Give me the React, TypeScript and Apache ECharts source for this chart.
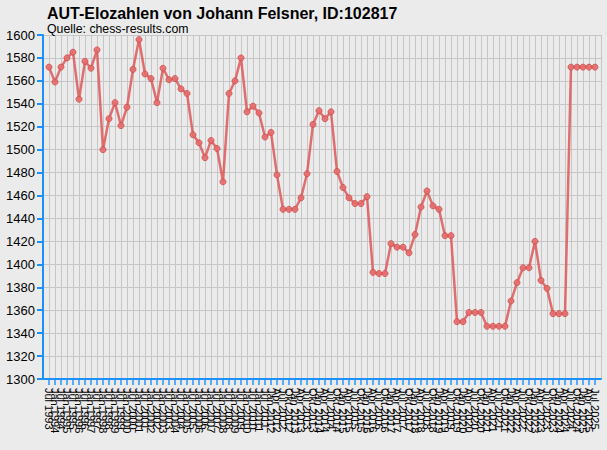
import React, { useEffect, useRef } from "react";
import * as echarts from "echarts";

const titleText = "AUT-Elozahlen von Johann Felsner, ID:102817";
const subText = "Quelle: chess-results.com";

const dateLabels: string[] = [
  "Jul 1993", "Jan 1994", "Jul 1994", "Jan 1995", "Jul 1995", "Jan 1996", "Jul 1996", "Jan 1997",
  "Jul 1997", "Jan 1998", "Jul 1998", "Jan 1999", "Jul 1999", "Jan 2000", "Jul 2000", "Jan 2001",
  "Jul 2001", "Jan 2002", "Jul 2002", "Jan 2003", "Jul 2003", "Jan 2004", "Jul 2004", "Jan 2005",
  "Jul 2005", "Jan 2006", "Jul 2006", "Jan 2007", "Jul 2007", "Jan 2008", "Jul 2008", "Jan 2009",
  "Jul 2009", "Jan 2010", "Jul 2010", "Jan 2011", "Jul 2011", "Jan 2012",
  "Apr 2012", "Jul 2012", "Okt 2012",
  "Jan 2013", "Apr 2013", "Jul 2013", "Okt 2013",
  "Jan 2014", "Apr 2014", "Jul 2014", "Okt 2014",
  "Jan 2015", "Apr 2015", "Jul 2015", "Okt 2015",
  "Jan 2016", "Apr 2016", "Jul 2016", "Okt 2016",
  "Jan 2017", "Apr 2017", "Jul 2017", "Okt 2017",
  "Jan 2018", "Apr 2018", "Jul 2018", "Okt 2018",
  "Jan 2019", "Apr 2019", "Jul 2019", "Okt 2019",
  "Jan 2020", "Apr 2020", "Jul 2020", "Okt 2020",
  "Jan 2021", "Apr 2021", "Jul 2021", "Okt 2021",
  "Jan 2022", "Apr 2022", "Jul 2022", "Okt 2022",
  "Jan 2023", "Apr 2023", "Jul 2023", "Okt 2023",
  "Jan 2024", "Apr 2024", "Jul 2024", "Okt 2024",
  "Jan 2025", "Apr 2025", "Jul 2025",
];

const eloValues: number[] = [
  1572, 1559, 1572, 1580, 1585, 1544, 1577, 1571, 1587, 1500,
  1527, 1541, 1521, 1537, 1570, 1596, 1566, 1562, 1541, 1571,
  1561, 1562, 1553, 1549, 1513, 1506, 1493, 1508, 1501, 1472,
  1549, 1560, 1580, 1533, 1538, 1532, 1511, 1515, 1478, 1448,
  1448, 1448, 1458, 1479, 1522, 1534, 1527, 1533, 1481, 1467,
  1458, 1453, 1453, 1459, 1393, 1392, 1392, 1418, 1415, 1415,
  1410, 1426, 1450, 1464, 1451, 1448, 1425, 1425, 1350, 1350,
  1358, 1358, 1358, 1346, 1346, 1346, 1346, 1368, 1384, 1397,
  1397, 1420, 1386, 1379, 1357, 1357, 1357, 1572, 1572, 1572,
  1572, 1572,
];

const yMin = 1300;
const yMax = 1600;
const yStep = 20;

export default function App() {
  const ref = useRef<HTMLDivElement>(null);
  useEffect(() => {
    if (!ref.current) return;
    const chart = echarts.init(ref.current, null, { renderer: "svg" });
    const cats = ["", ...dateLabels, ""];
    const data: (number | null)[] = [null, ...eloValues, null];
    const blue = "#1E8FFF";
    const gridGray = "#C6C6C6";
    const font = "Liberation Sans, Arial, sans-serif";
    chart.setOption({
      animation: false,
      backgroundColor: "#EBEBEB",
      title: {
        text: titleText,
        subtext: subText,
        left: 42,
        top: 0,
        itemGap: 2,
        textStyle: { fontFamily: font, fontWeight: "bold", fontSize: 16, color: "#000" },
        subtextStyle: { fontFamily: font, fontSize: 12.3, color: "#000" },
      },
      grid: { left: 43, right: 6, top: 35, bottom: 71, containLabel: false },
      xAxis: {
        type: "category",
        data: cats,
        boundaryGap: false,
        axisLine: { show: true, onZero: false, lineStyle: { color: blue, width: 2 } },
        axisTick: {
          show: true,
          length: 6,
          interval: (i: number) => i > 0 && i < cats.length - 1,
          lineStyle: { color: "rgba(30,143,255,0.7)", width: 2 },
        },
        axisLabel: {
          interval: 0,
          rotate: -90,
          margin: 9,
          fontSize: 11,
          fontFamily: font,
          color: "#000",
        },
        splitLine: { show: true, interval: 0, lineStyle: { color: gridGray, width: 1 } },
      },
      yAxis: {
        type: "value",
        min: yMin,
        max: yMax,
        interval: yStep,
        axisLine: { show: true, lineStyle: { color: blue, width: 2 } },
        axisTick: { show: true, length: 6, lineStyle: { color: blue, width: 2 } },
        axisLabel: {
          fontSize: 13,
          fontFamily: font,
          color: "#000",
          margin: 8,
          formatter: (v: number) => String(v),
        },
        splitLine: { show: true, lineStyle: { color: gridGray, width: 1 } },
      },
      series: [
        {
          type: "line",
          data,
          symbol: "circle",
          symbolSize: 6,
          showSymbol: true,
          connectNulls: false,
          lineStyle: { color: "rgba(222,88,88,0.85)", width: 2.5 },
          itemStyle: { color: "rgba(226,110,110,0.9)", borderColor: "rgba(214,80,80,0.9)", borderWidth: 1 },
        },
      ],
    });
    return () => chart.dispose();
  }, []);
  return (
    <div
      ref={ref}
      style={{ position: "fixed", left: 0, top: 0, width: 607, height: 450 }}
    />
  );
}
